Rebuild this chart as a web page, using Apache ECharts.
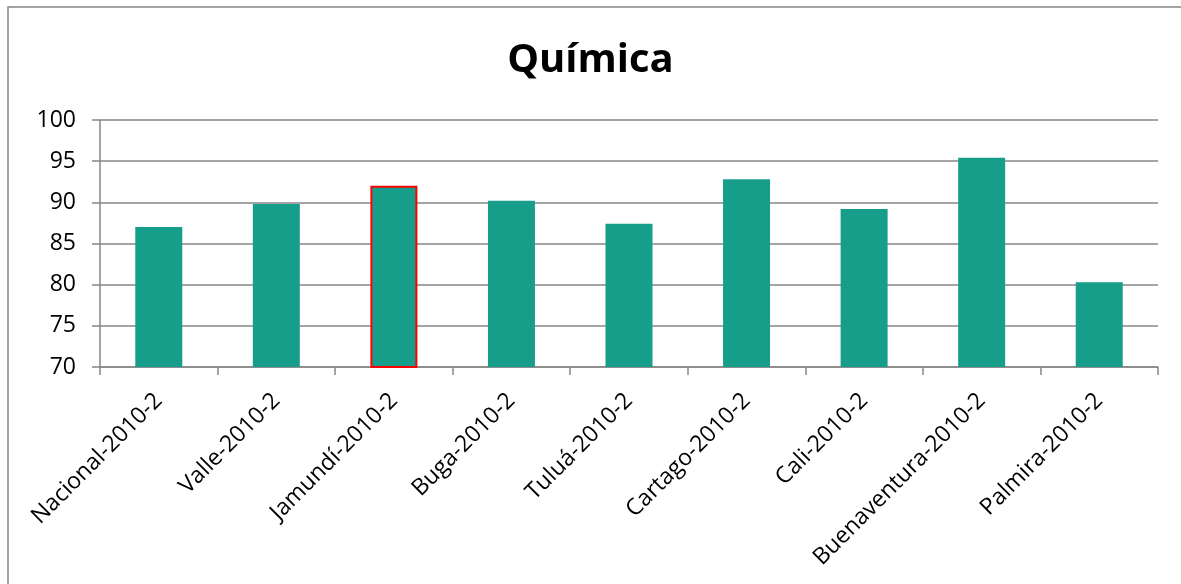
<!DOCTYPE html>
<html>
<head>
<meta charset="utf-8">
<script src="https://cdn.jsdelivr.net/npm/echarts@6/dist/echarts.min.js"></script>
<style>
  html, body { margin: 0; padding: 0; background: #fff; }
  #chart { width: 1181px; height: 584px; }
</style>
</head>
<body>
<div id="chart"></div>
<script>
const categories = ['Nacional-2010-2', 'Valle-2010-2', 'Jamundí-2010-2', 'Buga-2010-2', 'Tuluá-2010-2',
  'Cartago-2010-2', 'Cali-2010-2', 'Buenaventura-2010-2', 'Palmira-2010-2'];
const values = [87.0, 89.8, 92.0, 90.2, 87.4, 92.8, 89.2, 95.4, 80.3];
const highlighted = 'Jamundí-2010-2';

const font = 'Open Sans, Noto Sans, sans-serif';
const chart = echarts.init(document.getElementById('chart'));

const option = {
  animation: false,
  title: {
    text: 'Química',
    left: 'center',
    top: 36,
    textStyle: { fontFamily: font, fontSize: 40, fontWeight: 'bold', color: '#000' }
  },
  graphic: [{
    type: 'rect',
    shape: { x: 8, y: 7, width: 1400, height: 800 },
    style: { fill: 'none', stroke: '#878787', lineWidth: 1.5 },
    silent: true
  }],
  grid: { left: 100, right: 23, top: 120, bottom: 217 },
  xAxis: {
    type: 'category',
    data: categories,
    axisLine: { lineStyle: { color: '#868686', width: 1.5 } },
    axisTick: { show: true, length: 8, lineStyle: { color: '#868686', width: 1.5 } },
    axisLabel: { rotate: 45, margin: 30, fontFamily: font, fontSize: 23, color: '#000', interval: 0 }
  },
  yAxis: {
    type: 'value',
    min: 70,
    max: 100,
    interval: 5,
    axisLine: { show: true, lineStyle: { color: '#868686', width: 1.5 } },
    axisTick: { show: true, length: 8, lineStyle: { color: '#868686', width: 1.5 } },
    axisLabel: { margin: 24, fontFamily: font, fontSize: 23, color: '#000' },
    splitLine: { lineStyle: { color: '#868686', width: 1.5 } }
  },
  series: [{
    type: 'bar',
    barWidth: 47,
    data: values.map((v, i) => ({
      value: v,
      itemStyle: categories[i] === highlighted
        ? { color: '#179E8B', borderColor: '#FF0000', borderWidth: 2 }
        : { color: '#179E8B' }
    }))
  }]
};

chart.setOption(option);
window.addEventListener('resize', () => { chart.resize(); });
</script>
</body>
</html>
